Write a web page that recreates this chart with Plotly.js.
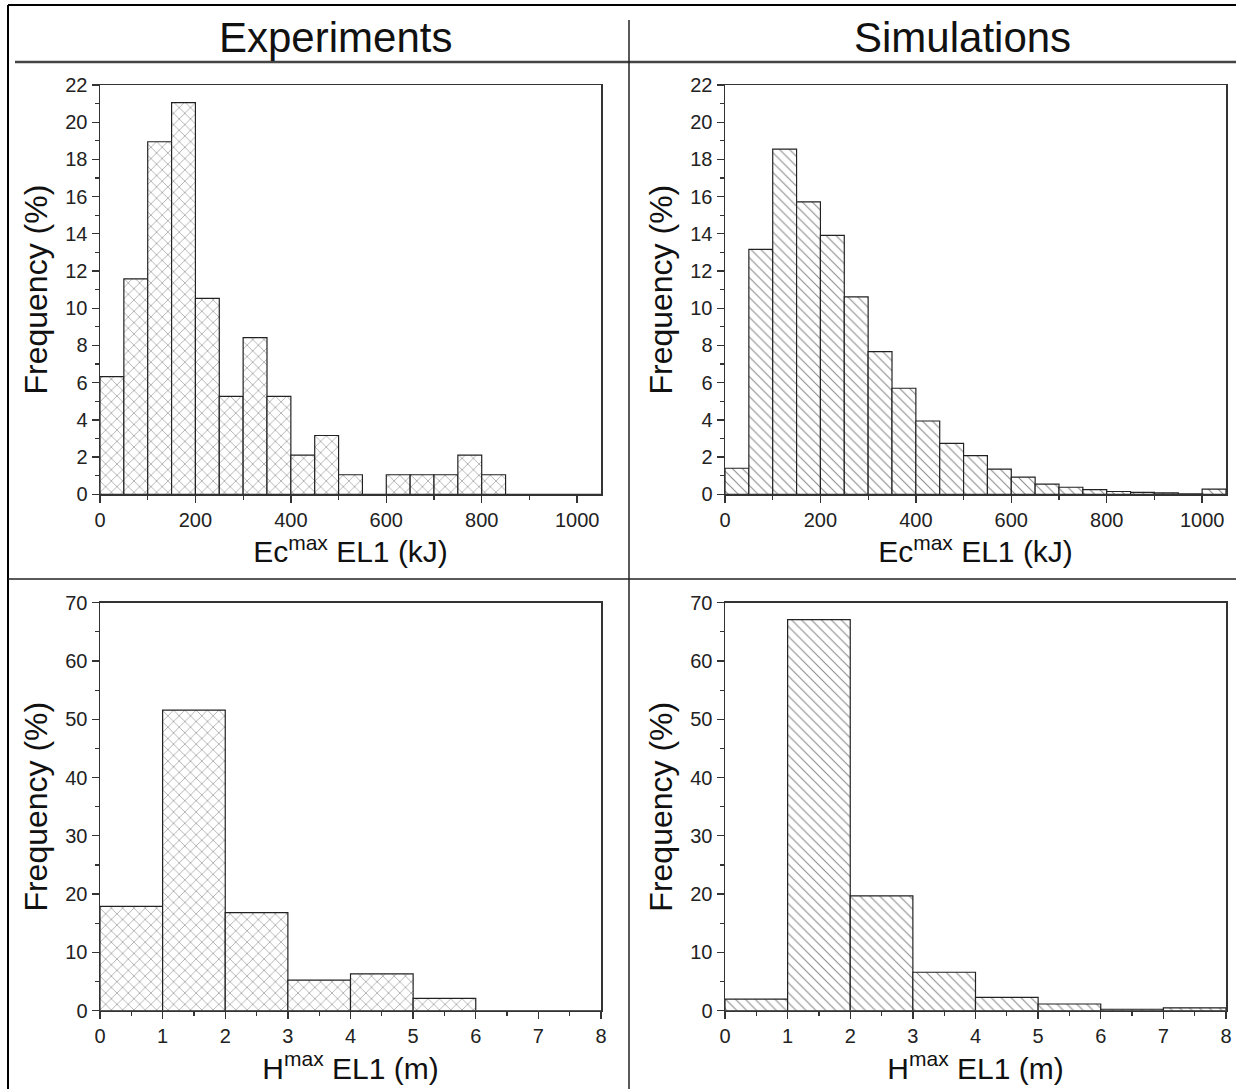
<!DOCTYPE html>
<html>
<head>
<meta charset="utf-8">
<script src="https://cdn.plot.ly/plotly-3.0.1.min.js"></script>
<style>
html,body{margin:0;padding:0;background:#fff;}
#chart{width:1236px;height:1089px;}
</style>
</head>
<body>
<div id="chart"></div>
<script>
// ---- data ----
const panelTitles = ["Experiments", "Simulations"];
const ecBins = [0,50,100,150,200,250,300,350,400,450,500,550,600,650,700,750,800,850,900,950,1000];
const expEc = [6.32,11.58,18.95,21.05,10.53,5.26,8.42,5.26,2.11,3.16,1.05,0,1.05,1.05,1.05,2.11,1.05,0,0,0,0];
const simEc = [1.40,13.17,18.55,15.72,13.92,10.61,7.67,5.70,3.94,2.74,2.08,1.35,0.92,0.55,0.38,0.25,0.15,0.10,0.08,0.03,0.28];
const hBins = [0,1,2,3,4,5,6,7];
const expH = [17.89,51.58,16.84,5.26,6.32,2.11,0,0];
const simH = [2.0,67.1,19.7,6.6,2.3,1.15,0.25,0.5];
const ecLabel = "Ec<sup>max</sup> EL1 (kJ)";
const hLabel = "H<sup>max</sup> EL1 (m)";
const yLabel = "Frequency (%)";

// ---- styles ----
const FONT = 'Arial, "Liberation Sans", sans-serif';
const W = 1236, H = 1089;
const px = v => v / W;
const py = v => 1 - v / H;

function barTrace(x, y, w, shape, xa, ya) {
  return {
    type: 'bar', x: x, y: y, width: w, offset: 0,
    xaxis: xa, yaxis: ya, showlegend: false, hoverinfo: 'x+y',
    marker: {
      color: 'white',
      line: {color: '#222', width: 1.2},
      pattern: {shape: shape, fgcolor: '#8a8a8a', bgcolor: 'white', size: shape === 'x' ? 8 : 7, solidity: 0.15, fillmode: 'replace'}
    }
  };
}

const data = [
  barTrace(ecBins, expEc, 50, 'x', 'x', 'y'),
  barTrace(ecBins, simEc, 50, '\\', 'x2', 'y2'),
  barTrace(hBins, expH, 1, 'x', 'x3', 'y3'),
  barTrace(hBins, simH, 1, '\\', 'x4', 'y4')
];

function xAxis(domain, range, dtick, minor, anchor, title) {
  return {
    domain: domain, range: range, anchor: anchor, dtick: dtick, tick0: 0,
    showgrid: false, zeroline: false, showline: true, mirror: true,
    linecolor: '#333', linewidth: 1.5,
    ticks: 'outside', ticklen: 7, tickwidth: 1.3, tickcolor: '#333',
    minor: {dtick: minor, tick0: 0, ticks: 'outside', ticklen: 4, tickwidth: 1.2, tickcolor: '#333', showgrid: false},
    tickfont: {family: FONT, size: 20, color: '#222'},
    title: {text: title, font: {family: FONT, size: 30, color: '#111'}, standoff: 4}
  };
}
function yAxis(domain, range, dtick, minor, anchor) {
  return {
    domain: domain, range: range, anchor: anchor, dtick: dtick, tick0: 0,
    showgrid: false, zeroline: false, showline: true, mirror: true,
    linecolor: '#333', linewidth: 1.5,
    ticks: 'outside', ticklen: 7, tickwidth: 1.3, tickcolor: '#333',
    minor: {dtick: minor, tick0: 0, ticks: 'outside', ticklen: 4, tickwidth: 1.2, tickcolor: '#333', showgrid: false},
    tickfont: {family: FONT, size: 20, color: '#222'},
    title: {text: yLabel, font: {family: FONT, size: 32, color: '#111'}, standoff: 8}
  };
}

const xL = [px(100), px(601)], xR = [px(725), px(1226)];
const yT = [py(494.3), py(85)], yB = [py(1010.7), py(602.7)];

const layout = {
  width: W, height: H,
  margin: {l: 0, r: 0, t: 0, b: 0},
  paper_bgcolor: 'white', plot_bgcolor: 'white',
  font: {family: FONT},
  bargap: 0,
  xaxis: xAxis(xL, [0, 1050], 200, 100, 'y', ecLabel),
  yaxis: yAxis(yT, [0, 22], 2, 1, 'x'),
  xaxis2: xAxis(xR, [0, 1050], 200, 100, 'y2', ecLabel),
  yaxis2: yAxis(yT, [0, 22], 2, 1, 'x2'),
  xaxis3: xAxis(xL, [0, 8], 1, 0.5, 'y3', hLabel),
  yaxis3: yAxis(yB, [0, 70], 10, 5, 'x3'),
  xaxis4: xAxis(xR, [0, 8], 1, 0.5, 'y4', hLabel),
  yaxis4: yAxis(yB, [0, 70], 10, 5, 'x4'),
  annotations: [
    {text: panelTitles[0], x: px(335), y: py(37), xref: 'paper', yref: 'paper', showarrow: false, xanchor: 'center', yanchor: 'middle', font: {family: FONT, size: 42, color: '#111'}},
    {text: panelTitles[1], x: px(962), y: py(37), xref: 'paper', yref: 'paper', showarrow: false, xanchor: 'center', yanchor: 'middle', font: {family: FONT, size: 42, color: '#111'}}
  ],
  shapes: [
    {type: 'line', xref: 'paper', yref: 'paper', x0: px(8), x1: 1, y0: py(5), y1: py(5), line: {color: '#000', width: 2}},
    {type: 'line', xref: 'paper', yref: 'paper', x0: px(8), x1: px(8), y0: py(5), y1: 0, line: {color: '#000', width: 2}},
    {type: 'line', xref: 'paper', yref: 'paper', x0: px(15), x1: 1, y0: py(62), y1: py(62), line: {color: '#444', width: 2.5}},
    {type: 'line', xref: 'paper', yref: 'paper', x0: px(8), x1: 1, y0: py(579), y1: py(579), line: {color: '#222', width: 1.5}},
    {type: 'line', xref: 'paper', yref: 'paper', x0: px(629), x1: px(629), y0: py(20), y1: 0, line: {color: '#222', width: 1.5}}
  ]
};

Plotly.newPlot('chart', data, layout, {staticPlot: true, displayModeBar: false});
</script>
</body>
</html>
